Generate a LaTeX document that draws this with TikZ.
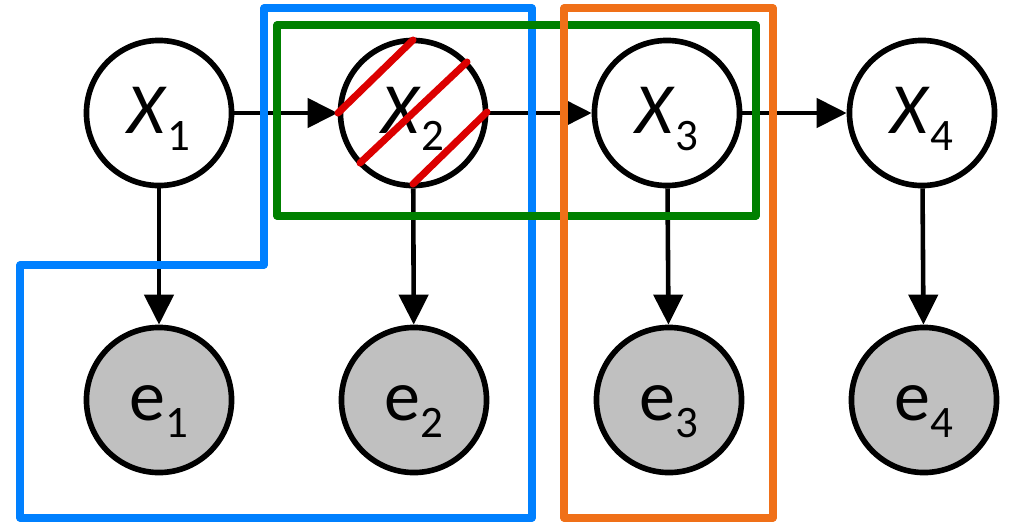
\documentclass[tikz,border=0pt]{standalone}
\usepackage{fontspec}
\setmainfont{Carlito}
\usetikzlibrary{arrows.meta}
\definecolor{bblue}{RGB}{0,128,255}
\definecolor{bgreen}{RGB}{0,128,0}
\definecolor{borange}{RGB}{240,112,24}
\definecolor{bred}{RGB}{220,0,0}
\definecolor{obsgray}{RGB}{192,192,192}
\newcommand\mylbl[2]{\fontsize{20.5}{20.5}\selectfont #1\raisebox{-5.1pt}{\fontsize{12.8}{12.8}\selectfont #2}}
\begin{document}
\begin{tikzpicture}[x=0.01cm,y=-0.01cm,
  hid/.style={circle, draw, line width=1.6pt, minimum size=1.45cm, inner sep=0pt, fill=white, text height=0.5cm, text depth=0.1cm},
  obs/.style={hid, fill=obsgray},
  arr/.style={line width=1.3pt, -{Triangle[length=0.3cm,width=0.29cm]}},
  boxline/.style={line width=2pt, line join=round},
  slash/.style={bred, line width=2pt, line cap=round}]
\useasboundingbox (0,0) rectangle (1015,524);
\node[hid] (x1) at (159,113) {\mylbl{\textit{X}}{1}};
\node[hid] (x2) at (413,113) {\mylbl{\textit{X}}{2}};
\node[hid] (x3) at (667,113) {\mylbl{\textit{X}}{3}};
\node[hid] (x4) at (922,113) {\mylbl{\textit{X}}{4}};
\node[obs] (e1) at (159,400) {\mylbl{e}{1}};
\node[obs] (e2) at (414,400) {\mylbl{e}{2}};
\node[obs] (e3) at (669,400) {\mylbl{e}{3}};
\node[obs] (e4) at (924,400) {\mylbl{e}{4}};
\draw[arr] (x1) -- (x2);
\draw[arr] (x2) -- (x3);
\draw[arr] (x3) -- (x4);
\draw[arr] (x1) -- (e1);
\draw[arr] (x2) -- (e2);
\draw[arr] (x3) -- (e3);
\draw[arr] (x4) -- (e4);
\draw[slash] (338,113) -- (413,40);
\draw[slash] (360,163) -- (467,62);
\draw[slash] (413,184) -- (487,112);
\draw[boxline, bblue] (20,265) -- (264,265) -- (264,8) -- (532,8) -- (532,518) -- (20,518) -- cycle;
\draw[boxline, bgreen] (277,25) rectangle (756,216);
\draw[boxline, borange] (564,8) rectangle (773,518);
\end{tikzpicture}
\end{document}
